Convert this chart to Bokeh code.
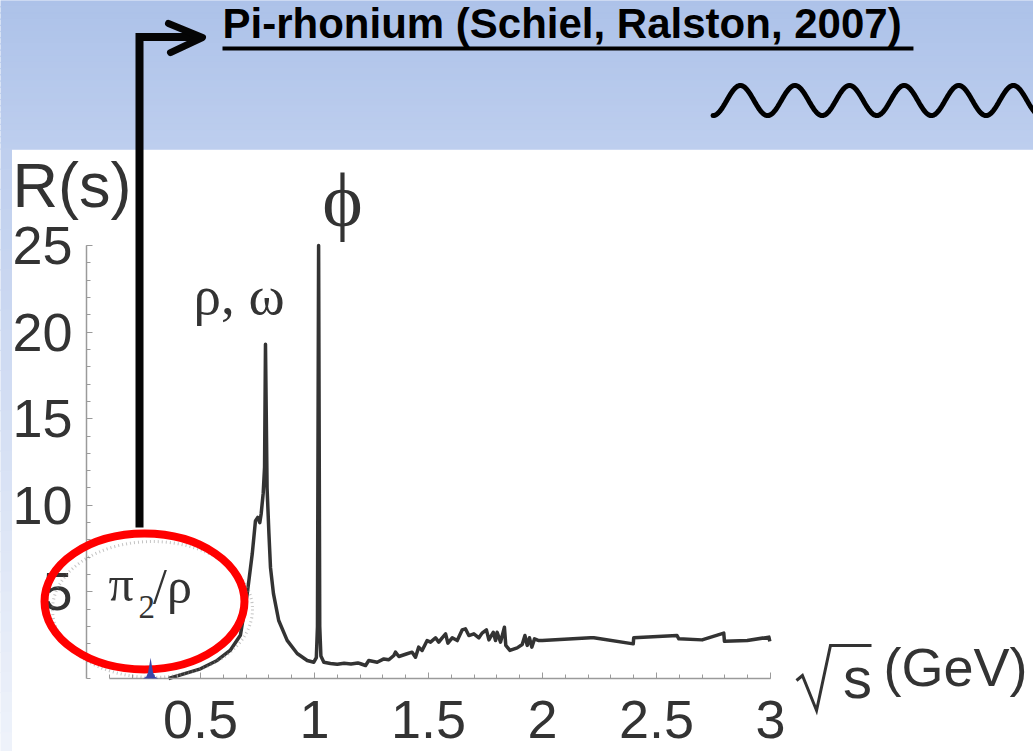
import numpy as np
from bokeh.plotting import figure
from bokeh.models import Range1d, LinearAxis, FixedTicker, NumeralTickFormatter
from bokeh.core.properties import value
from bokeh.embed import file_html
from bokeh.resources import INLINE

# R(s) = sigma(e+e- -> hadrons) / sigma(e+e- -> mu+mu-) against sqrt(s) in GeV
sqrt_s = [0.360, 0.427, 0.500, 0.573, 0.630, 0.675, 0.705, 0.727, 0.741, 0.751,
          0.760, 0.766, 0.775, 0.781, 0.785, 0.792, 0.800, 0.807, 0.820, 0.843,
          0.880, 0.924, 0.968, 0.997, 1.008, 1.013, 1.018, 1.023, 1.028, 1.041,
          1.070, 1.100, 1.130, 1.160, 1.190, 1.202, 1.224, 1.238, 1.275, 1.304,
          1.326, 1.348, 1.355, 1.370, 1.406, 1.428, 1.443, 1.457, 1.472, 1.494,
          1.509, 1.531, 1.545, 1.560, 1.575, 1.585, 1.604, 1.626, 1.648, 1.662,
          1.677, 1.699, 1.721, 1.735, 1.754, 1.765, 1.784, 1.794, 1.801, 1.816,
          1.833, 1.839, 1.857, 1.889, 1.911, 1.923, 1.933, 1.943, 1.953, 1.965,
          1.984, 1.999, 2.211, 2.225, 2.398, 2.400, 2.590, 2.598, 2.700, 2.795,
          2.798, 2.898, 2.993, 2.997]
r_ratio = [0.00, 0.27, 0.56, 1.04, 1.62, 2.50, 4.90, 7.20, 9.10, 9.30,
           9.00, 9.50, 10.70, 12.20, 19.30, 11.00, 8.40, 6.40, 4.90, 3.35,
           2.20, 1.44, 1.04, 0.94, 1.20, 3.00, 25.00, 3.00, 1.30, 0.94,
           0.87, 0.82, 0.88, 0.84, 0.90, 0.85, 0.75, 1.04, 0.94, 1.13,
           1.08, 1.33, 1.52, 1.27, 1.43, 1.52, 1.23, 1.81, 1.62, 2.19,
           2.10, 2.35, 2.10, 2.35, 2.58, 2.04, 2.35, 2.19, 2.81, 2.87,
           2.48, 2.58, 2.35, 2.62, 2.81, 2.23, 2.67, 2.19, 2.67, 2.10,
           2.96, 1.91, 1.62, 1.77, 1.96, 2.48, 1.91, 2.35, 1.81, 2.29,
           2.19, 2.19, 2.35, 2.35, 2.00, 2.35, 2.48, 2.29, 2.23, 2.62,
           2.15, 2.19, 2.39, 2.15]

# narrow pi_2 / rho bump near threshold
pi2_sqrt_s = [0.248, 0.262, 0.270, 0.276, 0.281, 0.286, 0.292, 0.300, 0.314]
pi2_r = [0.00, 0.10, 0.35, 0.80, 1.20, 0.80, 0.35, 0.10, 0.00]

x_major_ticks = [0.5, 1.0, 1.5, 2.0, 2.5, 3.0]
x_minor_ticks = [round(0.1 * i, 1) for i in range(1, 31)]
y_major_ticks = [5, 10, 15, 20, 25]
y_minor_ticks = list(range(0, 26))

INK = "#333333"
SANS = value("Liberation Sans")
SERIF = value("Liberation Serif")

p = figure(width=1033, height=751,
           x_range=Range1d(-0.37719, 4.15351), y_range=Range1d(-4.2148, 39.1455),
           x_axis_type=None, y_axis_type=None,
           output_backend="svg", toolbar_location=None, min_border=0)
p.outline_line_color = None
p.background_fill_color = "white"
p.border_fill_color = "white"

# slide header band and left margin, shaded top to bottom
def blend(c0, c1, t):
    a = np.array([int(c0[i:i + 2], 16) for i in (1, 3, 5)])
    b = np.array([int(c1[i:i + 2], 16) for i in (1, 3, 5)])
    c = np.round(a + (b - a) * t).astype(int)
    return "#%02x%02x%02x" % tuple(c)

n_band = 24
band_edges = np.linspace(39.1455, 30.57, n_band + 1)
p.quad(left=-0.4, right=4.2, top=band_edges[:-1], bottom=band_edges[1:] - 0.01,
       color=[blend("#adc2e9", "#bdceee", k / (n_band - 1)) for k in range(n_band)])
n_side = 30
side_edges = np.linspace(30.57, -4.3, n_side + 1)
p.quad(left=-0.4, right=-0.3289, top=side_edges[:-1], bottom=side_edges[1:] - 0.01,
       color=[blend("#bfcfee", "#eef2fa", k / (n_side - 1)) for k in range(n_side)])

# axes
xaxis = LinearAxis(fixed_location=0, bounds=(0.1, 3.0),
                   ticker=FixedTicker(ticks=x_major_ticks, minor_ticks=x_minor_ticks),
                   formatter=NumeralTickFormatter(format="0.[0]"))
yaxis = LinearAxis(fixed_location=0, bounds=(0, 25),
                   ticker=FixedTicker(ticks=y_major_ticks, minor_ticks=y_minor_ticks))
for ax in (xaxis, yaxis):
    ax.axis_line_color = "#9a9a9a"
    ax.axis_line_width = 1.5
    ax.major_tick_line_color = "#9a9a9a"
    ax.minor_tick_line_color = "#9a9a9a"
    ax.major_tick_in = 6
    ax.major_tick_out = 0
    ax.minor_tick_in = 4
    ax.minor_tick_out = 0
    ax.major_label_text_font = "Liberation Sans"
    ax.major_label_text_font_size = "54px"
    ax.major_label_text_color = INK
xaxis.major_label_standoff = 23
yaxis.major_label_standoff = 14
p.add_layout(xaxis, "below")
p.add_layout(yaxis, "left")

# spectrum
p.line(sqrt_s, r_ratio, line_color=INK, line_width=3.5, line_join="round")

# axis titles
p.text(x=[-0.3246], y=[28.47], text=["R(s)"], text_font=SANS, text_font_size="63px",
       text_color=INK, text_baseline="alphabetic", text_align="left")
p.text(x=[3.4956], y=[0.67], text=["(GeV)"], text_font=SANS, text_font_size="54px",
       text_color=INK, text_baseline="alphabetic", text_align="left")
p.text(x=[3.318], y=[0.07], text=["s"], text_font=SANS, text_font_size="58px",
       text_color=INK, text_baseline="alphabetic", text_align="left")
p.line(x=[3.114, 3.140, 3.202, 3.263, 3.443], y=[-0.115, 0.173, -1.848, 1.905, 1.905],
       line_color=INK, line_width=3, line_join="miter")

# resonance labels
p.text(x=[0.469], y=[22.11], text=["ρ, ω"], text_font=SERIF, text_font_size="55px",
       text_color=INK, text_baseline="alphabetic", text_align="left")
p.text(x=[1.123], y=[27.6], text=["ϕ"], text_font=SERIF, text_font_size="77px",
       text_color=INK, text_baseline="alphabetic", text_align="center")

# highlighted pi_2 / rho region
p.ellipse(x=[0.2895], y=[3.985], width=0.877, height=7.85, fill_color=None,
          line_color="#8a8a8a", line_alpha=0.5, line_width=3, line_dash="1 3", level="overlay")
p.ellipse(x=[0.2544], y=[4.446], width=0.877, height=7.85, fill_color=None,
          line_color="#ff0000", line_width=8, level="overlay")
p.varea(x=pi2_sqrt_s, y1=0, y2=pi2_r, color="#3b47a8", level="overlay")
p.text(x=[0.096], y=[5.45], text=["π"], text_font=SERIF, text_font_size="50px",
       text_color=INK, text_baseline="alphabetic", text_align="left", level="overlay")
p.text(x=[0.228], y=[4.11], text=["2"], text_font=SERIF, text_font_size="33px",
       text_color=INK, text_baseline="alphabetic", text_align="left", level="overlay")
p.text(x=[0.292], y=[5.35], text=["/ρ"], text_font=SERIF, text_font_size="50px",
       text_color=INK, text_baseline="alphabetic", text_align="left", level="overlay")

# header: reference, pointer arrow and photon line
p.text(x=[0.5965], y=[37.81], text=["Pi-rhonium (Schiel, Ralston, 2007)"],
       text_font=SANS, text_font_size="42px", text_font_style="bold",
       text_color="black", text_baseline="alphabetic", text_align="left")
p.line(x=[0.5965, 3.627], y=[36.374, 36.374], line_color="black", line_width=4)
p.line(x=[0.2325, 0.2325, 0.478], y=[8.72, 37.04, 37.04], line_color="#050505",
       line_width=8, line_join="miter", level="overlay")
p.line(x=[0.3596, 0.5088, 0.3684], y=[37.82, 37.01, 36.14], line_color="#050505",
       line_width=7, line_cap="round", line_join="round", level="overlay")

wave_x0, wave_period, wave_mid, wave_amp = 2.748, 0.2395, 33.37, 0.87
wave_x = np.linspace(wave_x0, 4.2, 400)
wave_y = wave_mid - wave_amp * np.cos(2 * np.pi * (wave_x - wave_x0) / wave_period)
p.line(wave_x, wave_y, line_color="black", line_width=5, line_cap="round")

open("out.html", "w").write(file_html(p, INLINE))
